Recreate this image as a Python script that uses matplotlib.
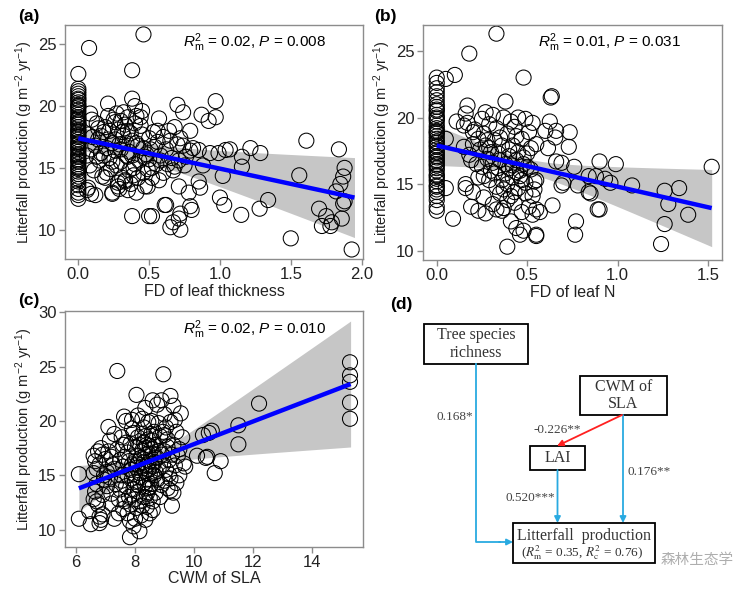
import numpy as np
import matplotlib
matplotlib.use("Agg")
import matplotlib.pyplot as plt
from matplotlib.patches import Rectangle, FancyArrowPatch

plt.rcParams['font.family'] = ['Liberation Sans', 'DejaVu Sans']
plt.rcParams['mathtext.fontset'] = 'custom'
plt.rcParams['mathtext.rm'] = 'Liberation Sans'
plt.rcParams['mathtext.it'] = 'Liberation Sans:italic'

# ---------------- data: panel (a) FD of leaf thickness ----------------
a_col_y = [22.6, 21.4, 21.2, 21.0, 20.8, 20.6, 20.5, 20.3, 20.1, 19.9, 19.7, 19.5, 19.3, 19.1, 18.9,
           18.7, 18.5, 18.3, 18.1, 17.9, 17.7, 17.5, 17.3, 17.1, 16.9, 16.7, 16.5, 16.3, 16.1, 15.9,
           15.7, 15.5, 15.3, 15.1, 14.9, 14.7, 14.5, 14.3, 14.1, 13.9, 13.6, 13.3, 13.0, 12.8, 12.5,
           20.0, 19.0, 18.0, 17.0, 16.0, 15.0, 17.6, 16.6, 18.6, 15.6]
a_pts = [
    (0.10, 17.5), (0.12, 16.8), (0.14, 17.3), (0.16, 16.2), (0.18, 17.9), (0.20, 16.6), (0.22, 15.8),
    (0.24, 17.0), (0.26, 16.4), (0.28, 18.1), (0.30, 15.5), (0.32, 17.6), (0.34, 16.0), (0.36, 14.8),
    (0.38, 17.2), (0.40, 15.3), (0.42, 16.8), (0.44, 18.4), (0.46, 14.6), (0.48, 16.1), (0.50, 17.4),
    (0.52, 15.0), (0.54, 16.7), (0.56, 18.0), (0.58, 15.6), (0.06, 16.0), (0.08, 15.2), (0.11, 14.8),
    (0.13, 18.6), (0.15, 15.6), (0.17, 14.3), (0.19, 18.3), (0.21, 17.3), (0.23, 14.9), (0.25, 18.9),
    (0.27, 15.2), (0.29, 16.9), (0.31, 14.2), (0.33, 18.5), (0.35, 15.9), (0.37, 17.8), (0.39, 14.4),
    (0.41, 17.0), (0.43, 15.6), (0.45, 17.7), (0.47, 15.9), (0.49, 14.9), (0.51, 16.5), (0.53, 17.9),
    (0.55, 15.3), (0.09, 16.5), (0.13, 15.9), (0.18, 16.0), (0.22, 18.0), (0.26, 17.3), (0.30, 16.5),
    (0.34, 17.0), (0.38, 16.0), (0.42, 14.2), (0.46, 16.6), (0.50, 15.7), (0.30, 18.8), (0.35, 18.0),
    (0.40, 18.6), (0.44, 19.1), (0.28, 13.8), (0.33, 14.0), (0.37, 13.7), (0.27, 19.4), (0.31, 17.9),
    (0.36, 16.3), (0.39, 15.0), (0.24, 15.5), (0.20, 14.6), (0.16, 17.6),
    (0.07, 13.4), (0.09, 12.9), (0.19, 14.2), (0.24, 13.0), (0.28, 13.5), (0.35, 13.2), (0.33, 13.9),
    (0.47, 13.5), (0.52, 14.2), (0.61, 12.0), (0.52, 11.1), (0.38, 11.1), (0.12, 12.8), (0.06, 13.2),
    (0.24, 12.9), (0.29, 13.3), (0.49, 13.5), (0.57, 14.0), (0.41, 13.0),
    (0.46, 25.8), (0.076, 24.7), (0.38, 22.9), (0.21, 20.2), (0.38, 20.6), (0.40, 20.0), (0.083, 19.4),
    (0.095, 18.9), (0.21, 19.2), (0.26, 18.7), (0.32, 19.5), (0.35, 19.1), (0.41, 19.2), (0.45, 19.6),
    (0.57, 19.0), (0.14, 18.2), (0.07, 17.7),
    (0.70, 20.1), (0.74, 19.5), (0.87, 19.3), (0.92, 18.8), (0.97, 19.1), (0.97, 20.4), (0.68, 18.3),
    (0.79, 18.0), (0.65, 17.2), (0.70, 16.9), (0.72, 17.4), (0.62, 16.5), (0.66, 15.8), (0.74, 16.8),
    (0.79, 16.4), (0.81, 16.6), (0.85, 16.45), (0.93, 16.2), (0.99, 16.2), (1.04, 16.45), (0.60, 17.5),
    (0.63, 15.3), (0.68, 15.1), (0.71, 15.6), (0.76, 15.9), (0.64, 18.0), (0.60, 14.6), (0.67, 14.8),
    (0.85, 13.9), (0.86, 13.4), (0.71, 13.5), (0.78, 13.0), (0.79, 11.9), (0.72, 11.3), (0.72, 10.0),
    (0.65, 10.2), (0.71, 10.9), (0.67, 10.6), (0.80, 11.6), (0.50, 11.1), (0.62, 12.0), (0.75, 15.2),
    (0.88, 15.2), (0.58, 16.0), (0.56, 17.1),
    (1.02, 14.35), (1.00, 12.6), (1.03, 12.0), (1.15, 11.2), (1.28, 11.7), (1.34, 12.4), (1.155, 15.9),
    (1.155, 15.1), (1.215, 16.6), (1.285, 16.2), (1.07, 16.5), (1.56, 14.4), (1.61, 17.2), (1.84, 16.5),
    (1.88, 15.0), (1.87, 14.3), (1.85, 13.7), (1.82, 13.1), (1.87, 12.1), (1.88, 12.3), (1.86, 10.9),
    (1.70, 11.7), (1.75, 11.1), (1.72, 10.3), (1.78, 10.3), (1.79, 10.6), (1.50, 9.3), (1.93, 8.4)]
a_x = [0.0] * len(a_col_y) + [p[0] for p in a_pts]
a_y = a_col_y + [p[1] for p in a_pts]
a_fit = (17.4, 12.6, 0.0, 1.95)      # y at x0, y at x1, x0, x1
a_band = (0.35, 0.72, 1.97)          # centre, min half-width, slope

# ---------------- data: panel (b) FD of leaf N ----------------
b_col_y = [23.0, 22.6, 22.2, 21.9, 21.6, 21.3, 21.0, 20.8, 20.5, 20.2, 20.0, 19.7, 19.4, 19.2, 18.9,
           18.6, 18.4, 18.1, 17.8, 17.6, 17.3, 17.0, 16.8, 16.5, 16.2, 16.0, 15.7, 15.4, 15.2, 14.9,
           14.6, 14.4, 14.1, 13.8, 13.3, 13.0, 20.6, 19.9, 18.8, 17.9, 17.1, 16.4, 15.6, 14.8, 18.2,
           17.4, 16.7, 19.0]
b_pts = [
    (0.33, 26.3), (0.18, 24.8), (0.48, 23.0), (0.10, 23.2), (0.05, 22.9), (0.63, 21.5), (0.38, 21.2),
    (0.17, 20.9), (0.16, 20.3), (0.11, 19.7), (0.15, 19.4), (0.20, 18.9), (0.05, 18.4), (0.05, 14.7),
    (0.16, 14.7), (0.09, 12.4), (0.39, 10.3),
    (0.15, 17.8), (0.18, 17.2), (0.20, 18.0), (0.22, 16.5), (0.24, 17.6), (0.26, 18.8), (0.28, 16.9),
    (0.30, 17.4), (0.32, 18.3), (0.34, 16.2), (0.36, 17.9), (0.38, 15.8), (0.40, 17.1), (0.42, 16.4),
    (0.44, 18.6), (0.46, 15.6), (0.48, 17.0), (0.50, 16.3), (0.52, 17.7), (0.54, 15.2),
    (0.17, 19.6), (0.21, 19.1), (0.25, 19.9), (0.27, 20.4), (0.29, 19.5), (0.33, 19.2), (0.37, 20.0),
    (0.41, 19.7), (0.45, 20.0), (0.49, 19.9), (0.53, 19.6), (0.31, 20.2), (0.39, 18.8), (0.43, 19.3),
    (0.47, 18.4), (0.51, 18.9), (0.35, 18.5), (0.23, 18.4), (0.19, 16.8), (0.27, 17.9),
    (0.16, 15.0), (0.20, 14.4), (0.23, 15.5), (0.26, 14.0), (0.29, 15.3), (0.31, 13.5), (0.33, 14.8),
    (0.35, 14.3), (0.37, 13.2), (0.39, 15.0), (0.41, 14.1), (0.43, 13.6), (0.45, 14.7), (0.47, 12.9),
    (0.49, 15.1), (0.51, 13.3), (0.53, 12.7), (0.35, 16.8), (0.44, 16.8), (0.30, 16.0),
    (0.19, 13.3), (0.23, 13.0), (0.27, 12.8), (0.33, 13.1), (0.36, 13.0), (0.41, 12.2), (0.44, 11.7),
    (0.46, 11.2), (0.48, 11.5), (0.55, 11.1), (0.40, 17.6), (0.38, 16.5), (0.46, 16.0), (0.50, 17.3),
    (0.32, 15.8), (0.28, 18.3), (0.42, 15.5), (0.25, 16.3), (0.52, 16.1), (0.49, 14.3),
    (0.36, 15.3), (0.40, 16.2), (0.44, 15.9), (0.48, 16.5), (0.34, 17.3), (0.29, 17.7), (0.42, 17.9),
    (0.37, 14.6), (0.45, 17.4), (0.31, 16.6), (0.26, 15.6), (0.47, 15.3), (0.43, 14.4), (0.39, 13.8),
    (0.636, 21.6), (0.625, 19.7), (0.60, 19.0), (0.66, 19.0), (0.735, 18.9), (0.655, 18.5), (0.55, 18.0),
    (0.615, 17.7), (0.73, 17.8), (0.66, 16.7), (0.69, 16.6), (0.76, 16.3), (0.90, 16.7), (0.99, 16.5),
    (0.84, 15.6), (0.88, 15.6), (0.93, 15.4), (0.96, 15.1), (1.08, 14.9), (0.70, 15.1), (0.69, 14.9),
    (0.78, 14.9), (0.84, 14.4), (0.85, 14.3), (0.89, 13.1), (0.90, 13.1), (0.55, 15.3), (0.54, 14.6),
    (0.53, 14.1), (0.64, 13.4), (0.55, 13.1), (0.57, 12.9), (0.77, 12.2), (0.765, 11.2), (0.55, 11.2),
    (1.26, 14.5), (1.34, 14.7), (1.28, 13.5), (1.39, 12.7), (1.26, 12.0), (1.24, 10.5), (1.52, 16.3)]
b_x = [0.0] * len(b_col_y) + [p[0] for p in b_pts]
b_y = b_col_y + [p[1] for p in b_pts]
b_fit = (17.9, 13.2, 0.0, 1.52)
b_band = (0.5, 0.55, 2.79)

# ---------------- data: panel (c) CWM of SLA ----------------
c_pts = [
    (6.1, 15.1), (6.1, 11.0), (6.5, 10.5), (6.45, 11.7), (6.6, 16.8), (6.65, 16.3), (6.7, 15.6),
    (6.75, 17.2), (6.8, 16.0), (6.6, 15.2), (6.7, 14.2), (6.65, 13.5), (6.6, 12.8), (6.75, 12.3),
    (6.8, 11.2), (6.85, 10.9), (6.8, 10.6), (6.9, 11.4), (6.95, 15.0), (6.9, 16.9), (6.85, 17.5),
    (6.95, 14.6), (6.7, 12.6),
    (7.0, 16.5), (7.05, 15.3), (7.1, 19.45), (7.1, 17.2), (7.15, 14.8), (7.2, 13.3), (7.2, 12.4),
    (7.25, 16.0), (7.3, 18.8), (7.3, 15.6), (7.35, 14.2), (7.4, 24.6), (7.4, 17.4), (7.45, 12.8),
    (7.45, 11.5), (7.5, 16.4), (7.55, 15.0), (7.5, 13.7), (7.3, 11.0), (7.15, 18.2), (7.6, 17.8),
    (7.55, 14.5),
    (7.63, 20.4), (7.7, 20.0), (7.9, 20.1), (7.9, 19.3), (8.05, 22.4), (7.7, 18.0), (7.75, 17.1),
    (7.8, 16.3), (7.85, 15.5), (7.9, 14.7), (7.95, 13.7), (7.8, 13.0), (7.85, 12.3), (7.75, 11.5),
    (7.83, 10.8), (7.83, 9.3), (7.95, 10.3), (8.0, 11.0), (8.15, 9.85), (8.1, 18.5), (8.0, 17.6),
    (8.05, 16.8), (8.1, 16.0), (8.15, 15.2), (8.0, 14.4), (8.1, 13.5), (8.15, 12.6), (8.05, 12.0),
    (8.2, 11.3), (7.95, 18.9), (7.65, 16.7), (7.7, 14.0),
    (8.25, 20.2), (8.3, 19.4), (8.35, 18.6), (8.4, 17.8), (8.45, 17.0), (8.3, 16.2), (8.35, 15.4),
    (8.4, 14.6), (8.45, 13.8), (8.3, 13.0), (8.4, 12.1), (8.5, 11.5), (8.55, 20.0), (8.6, 21.9),
    (8.65, 19.0), (8.6, 18.2), (8.55, 17.4), (8.7, 16.6), (8.6, 15.8), (8.65, 15.0), (8.55, 14.2),
    (8.7, 13.4), (8.6, 12.6), (8.75, 21.5), (8.5, 16.3), (8.45, 19.9), (8.25, 17.3), (8.35, 14.0),
    (8.5, 15.1), (8.7, 17.8), (8.8, 19.8), (8.3, 18.0), (8.75, 14.6),
    (8.2, 16.6), (8.25, 15.8), (8.35, 16.9), (8.4, 15.9), (8.45, 18.3), (8.5, 17.7), (8.55, 16.0),
    (8.2, 14.8), (8.3, 14.3), (8.4, 13.3), (8.5, 13.9), (8.15, 17.8), (8.05, 15.7), (8.0, 16.3),
    (8.45, 15.5), (8.35, 17.5), (8.25, 18.8), (8.6, 17.0), (8.65, 16.2), (8.7, 15.3), (8.1, 14.1),
    (8.0, 12.8), (8.25, 12.2), (8.5, 12.9), (8.55, 18.8), (8.8, 17.2), (8.85, 18.6), (8.9, 16.9),
    (8.8, 15.6), (8.9, 14.1), (7.9, 16.0), (7.85, 17.9), (7.6, 15.8), (7.75, 15.0), (7.95, 15.1),
    (7.9, 13.2), (7.65, 12.6), (7.55, 18.5), (7.2, 16.7), (7.05, 14.0), (6.9, 13.2), (7.6, 11.9),
    (8.1, 20.5), (8.35, 21.2), (8.95, 19.0), (9.1, 17.6), (9.25, 16.9), (9.15, 15.1), (9.0, 18.7),
    (9.2, 13.6), (8.6, 11.8), (8.35, 10.9),
    (8.9, 21.9), (8.96, 24.3), (9.0, 20.6), (9.05, 19.4), (9.1, 18.3), (9.0, 17.2), (9.15, 16.4),
    (9.05, 15.5), (9.2, 14.7), (9.1, 13.8), (9.25, 12.2), (9.2, 22.3), (9.3, 21.4), (9.35, 20.1),
    (9.4, 19.0), (9.3, 17.8), (9.45, 16.8), (9.35, 15.9), (9.5, 15.0), (9.4, 14.3), (9.3, 13.4),
    (9.55, 20.7), (9.6, 18.5), (9.65, 16.1), (9.7, 15.8), (8.95, 16.0), (9.0, 14.5), (9.5, 17.4),
    (8.85, 13.0), (9.2, 19.9),
    (10.1, 16.8), (10.4, 16.6), (10.45, 16.7), (10.3, 18.7), (10.5, 18.9), (10.6, 19.1), (10.9, 16.3),
    (10.7, 15.2), (11.5, 19.6), (11.5, 17.85), (12.2, 21.6), (15.28, 25.4), (15.28, 24.2),
    (15.28, 23.6), (15.28, 21.7), (15.28, 20.2)]
c_x = [p[0] for p in c_pts]
c_y = [p[1] for p in c_pts]
c_fit = (13.8, 23.4, 6.1, 15.3)
c_band = (8.5, 0.5, 0.849)

labels_a = r"$R^2_\mathrm{m}$ = 0.02, $P$ = 0.008"
labels_b = r"$R^2_\mathrm{m}$ = 0.01, $P$ = 0.031"
labels_c = r"$R^2_\mathrm{m}$ = 0.02, $P$ = 0.010"
ylab = r"Litterfall production (g m$^{-2}$ yr$^{-1}$)"

W, H = 735, 592
fig = plt.figure(figsize=(W / 100, H / 100), dpi=100)

def ax_px(l, t, r, b):
    return fig.add_axes([l / W, 1 - b / H, (r - l) / W, (b - t) / H])

GRAY = '#8c8c8c'

def panel(ax, xs, ys, fit, band, xlim, ylim, xticks, yticks, xfmt, xlabel, ann, annx, anny):
    y0, y1, x0, x1 = fit
    xx = np.linspace(x0, x1, 100)
    yy = y0 + (y1 - y0) * (xx - x0) / (x1 - x0)
    xc, h0, k = band
    hw = np.sqrt(h0 ** 2 + (k * (xx - xc)) ** 2)
    ax.fill_between(xx, yy - hw, yy + hw, color='#c6c6c6', lw=0, zorder=1)
    ax.scatter(xs, ys, s=118, facecolors='none', edgecolors='black', linewidths=0.75, zorder=2)
    ax.plot(xx, yy, color='#0000ff', lw=3.2, zorder=3, solid_capstyle='butt')
    ax.set_xlim(*xlim)
    ax.set_ylim(*ylim)
    ax.set_xticks(xticks)
    ax.set_xticklabels([xfmt.format(v) for v in xticks])
    ax.set_yticks(yticks)
    for s in ax.spines.values():
        s.set_color(GRAY)
        s.set_linewidth(1.0)
    ax.tick_params(colors=GRAY, labelcolor='#222222', labelsize=12, length=4, width=1, pad=2)
    ax.set_xlabel(xlabel, fontsize=11.5, color='#222222')
    ax.set_ylabel(ylab, fontsize=10.5, color='#222222')
    ax.yaxis.set_label_coords(-0.10, 0.5)
    ax.text(annx, anny, ann, transform=ax.transAxes, ha='center', va='center', fontsize=11)

ax_a = ax_px(65, 25, 363, 259)
panel(ax_a, a_x, a_y, a_fit, a_band, (-0.094, 2.01), (7.63, 26.56),
      [0, 0.5, 1.0, 1.5, 2.0], [10, 15, 20, 25], "{:.1f}", "FD of leaf thickness", labels_a, 0.635, 0.925)
ax_b = ax_px(423, 25, 722, 260)
panel(ax_b, b_x, b_y, b_fit, b_band, (-0.076, 1.577), (9.30, 26.95),
      [0, 0.5, 1.0, 1.5], [10, 15, 20, 25], "{:.1f}", "FD of leaf N", labels_b, 0.625, 0.925)
ax_c = ax_px(65, 311, 363, 547)
panel(ax_c, c_x, c_y, c_fit, c_band, (5.63, 15.72), (8.40, 30.12),
      [6, 8, 10, 12, 14], [10, 15, 20, 25, 30], "{:.0f}", "CWM of SLA", labels_c, 0.635, 0.92)
ax_a.xaxis.set_label_coords(0.5, -0.105)
ax_b.xaxis.set_label_coords(0.5, -0.105)
ax_c.xaxis.set_label_coords(0.5, -0.10)

fig.text(18 / W, 1 - 17 / H, "(a)", fontsize=12.5, fontweight='bold', va='center')
fig.text(374 / W, 1 - 17 / H, "(b)", fontsize=12.5, fontweight='bold', va='center')
fig.text(18 / W, 1 - 301 / H, "(c)", fontsize=12.5, fontweight='bold', va='center')
fig.text(390 / W, 1 - 305 / H, "(d)", fontsize=12.5, fontweight='bold', va='center')

# ---------------- panel (d): path diagram ----------------
axd = fig.add_axes([0, 0, 1, 1])
axd.set_xlim(0, W)
axd.set_ylim(H, 0)
axd.axis('off')
axd.patch.set_alpha(0)

serif = ['Liberation Serif', 'DejaVu Serif']
boxes = {
    'tree': (424, 324, 528, 364, "Tree species\nrichness"),
    'cwm': (580, 376, 667, 415, "CWM of\nSLA"),
    'lai': (530, 446, 585, 470, "LAI"),
}
for key, (l, t, r, b, txt) in boxes.items():
    axd.add_patch(Rectangle((l, t), r - l, b - t, fill=False, ec='black', lw=1.3))
    axd.text((l + r) / 2, (t + b) / 2, txt, ha='center', va='center', fontsize=11.5,
             family=serif, color='#333333', linespacing=1.1)
axd.add_patch(Rectangle((513, 523), 142, 40, fill=False, ec='black', lw=1.3))
axd.text(584, 536, "Litterfall  production", ha='center', va='center', fontsize=11.5,
         family=serif, color='#333333')
axd.text(582, 553, r"($\mathit{R}^2_\mathrm{m}$ = 0.35, $\mathit{R}^2_\mathrm{c}$ = 0.76)", ha='center',
         va='center', fontsize=9.5, family=serif, color='#333333', math_fontfamily='stix')

BLUE = '#29aae1'
def arrow(p0, p1, color):
    axd.add_patch(FancyArrowPatch(p0, p1, arrowstyle='-|>', mutation_scale=9, color=color,
                                  lw=1.3, shrinkA=0, shrinkB=0))

axd.plot([476, 476, 500], [364, 542, 542], color=BLUE, lw=1.3)
arrow((499, 542), (513, 542), BLUE)
arrow((623, 415), (623, 523), BLUE)
arrow((557.5, 470), (557.5, 523), BLUE)
arrow((622, 415), (557, 446), '#ff2020')

axd.text(455, 417, "0.168*", ha='center', va='center', fontsize=9.5, family=serif, color='#444444')
axd.text(557, 430, "-0.226**", ha='center', va='center', fontsize=9.5, family=serif, color='#444444')
axd.text(649, 472, "0.176**", ha='center', va='center', fontsize=9.5, family=serif, color='#444444')
axd.text(530, 498, "0.520***", ha='center', va='center', fontsize=9.5, family=serif, color='#444444')

axd.text(697, 560, "森林生态学", ha='center', va='center', fontsize=10.5,
         family=['Noto Sans CJK SC', 'DejaVu Sans'], color='#9a9a9a', alpha=0.8)

fig.savefig("out.png", dpi=100)
